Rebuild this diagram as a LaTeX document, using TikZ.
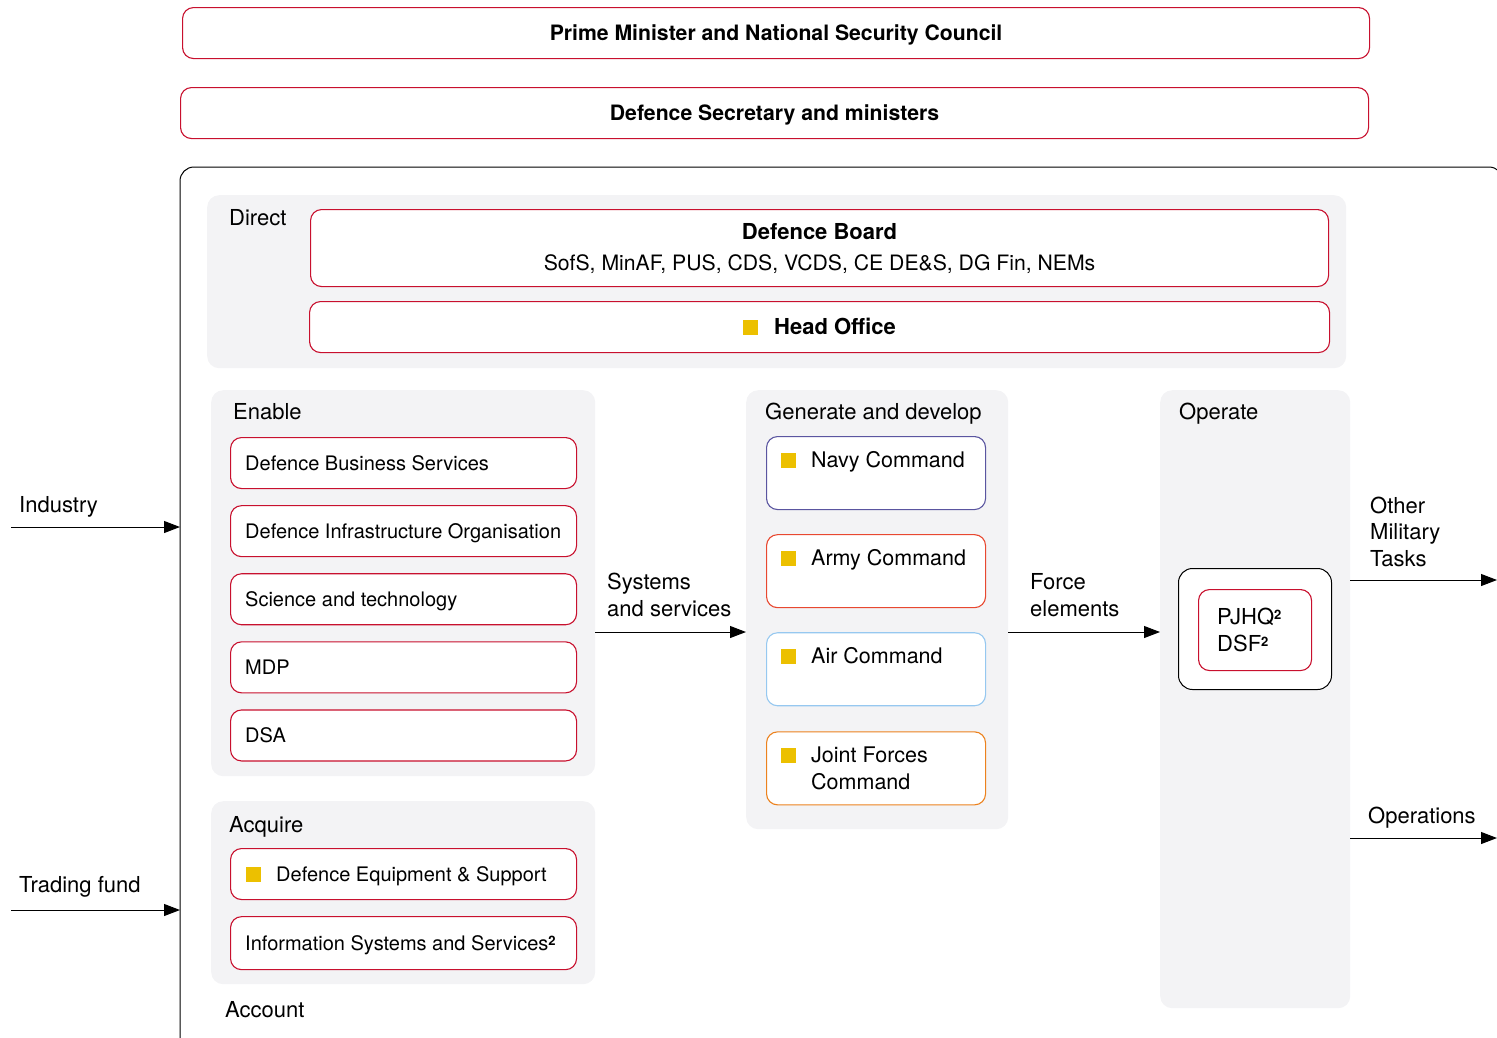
\documentclass[tikz,border=0pt]{standalone}
\usepackage{fontspec}
\setmainfont{TeX Gyre Heros}
\usepackage{tikz}
\usetikzlibrary{positioning,arrows.meta}

\definecolor{hored}{RGB}{200,16,46}
\definecolor{hoyellow}{RGB}{236,192,0}
\definecolor{panelgrey}{RGB}{243,243,245}
\definecolor{navyc}{RGB}{90,85,160}
\definecolor{armyc}{RGB}{232,72,48}
\definecolor{airc}{RGB}{150,200,240}
\definecolor{jfcc}{RGB}{236,130,30}

\newcommand{\hosq}{\textcolor{hoyellow}{\rule[-0.5pt]{15pt}{15pt}}}
\newcommand{\suptwo}{\raisebox{5pt}{\fontsize{13}{13}\selectfont\bfseries 2}}

\tikzset{
	panel/.style={fill=panelgrey, rounded corners=12pt, inner sep=0pt, anchor=north west},
	hobox/.style={draw=hored, line width=1.1pt, rounded corners=11pt, fill=white, inner sep=0pt, anchor=north west},
	ttl/.style={text height=19pt, text depth=4pt},
	unit/.style={hobox, minimum width=346pt, minimum height=51pt},
	cmd/.style={hobox, minimum width=219pt, minimum height=73pt},
	lbl/.style={inner sep=0pt, anchor=base west, align=left, font=\fontsize{22}{26.5}\selectfont},
	utxt/.style={lbl, font=\fontsize{20}{27}\selectfont},
	ctxt/.style={lbl, font=\fontsize{21.5}{27}\selectfont},
	flow/.style={line width=1pt, ->},
}

\begin{document}
\begin{tikzpicture}[x=1pt, y=-1pt, font=\fontsize{20}{27}\selectfont, >={Triangle[length=16pt,width=12pt]}]
	\useasboundingbox (0,0) rectangle (1497,1037);
	\begin{scope}
		\clip (0,0) rectangle (1497,1037);
		\draw[line width=1pt, rounded corners=14pt] (180,1060) -- (180,167) -- (1503,167) -- (1503,1060);
	\end{scope}
	\coordinate (frameL) at (180,167);

	\node[hobox, ttl, minimum width=1187pt, minimum height=51pt, font=\fontsize{21.2}{26}\selectfont\bfseries] (pm) at (182,7) {Prime Minister and National Security Council};
	\node[hobox, ttl, minimum width=1188pt, minimum height=51pt, font=\fontsize{21.2}{26}\selectfont\bfseries] (defsec) at (180,87) {Defence Secretary and ministers};

	\node[panel, minimum width=1139pt, minimum height=173pt] (direct) at (207,195) {};
	\node[lbl] (directlbl) at (229,225) {Direct};
	\node[hobox, align=center, minimum width=1018pt, minimum height=77pt, font=\fontsize{21.2}{27}\selectfont] (board) at (310,209) {\fontsize{22}{27}\selectfont\textbf{Defence Board}\\[4pt]SofS, MinAF, PUS, CDS, VCDS, CE DE\&S, DG Fin, NEMs};
	\node[hobox, ttl, minimum width=1020pt, minimum height=51pt, font=\fontsize{22}{26}\selectfont] (headoff) at (309,301) {\hosq\hspace{16pt}\textbf{Head Office}};

	\node[panel, minimum width=384pt, minimum height=386pt] (enable) at (211,390) {};
	\node[lbl] (enablelbl) at (233,419) {Enable};
	\node[unit] (dbs) at (230,437) {};
	\node[unit, below=16pt of dbs] (dio) {};
	\node[unit, below=16pt of dio] (st) {};
	\node[unit, below=16pt of st] (mdp) {};
	\node[unit, below=16pt of mdp] (dsa) {};
	\node[utxt] (dbstxt) at ([xshift=15pt, yshift=-7pt]dbs.west) {Defence Business Services};
	\node[utxt] (diotxt) at ([xshift=15pt, yshift=-7pt]dio.west) {Defence Infrastructure Organisation};
	\node[utxt] (sttxt) at ([xshift=15pt, yshift=-7pt]st.west) {Science and technology};
	\node[utxt] (mdptxt) at ([xshift=15pt, yshift=-7pt]mdp.west) {MDP};
	\node[utxt] (dsatxt) at ([xshift=15pt, yshift=-7pt]dsa.west) {DSA};

	\node[panel, minimum width=384pt, minimum height=183pt] (acquire) at (211,801) {};
	\node[lbl] (acquirelbl) at (229,832) {Acquire};
	\node[unit] (des) at (230,848) {};
	\node[unit, minimum height=53pt, below=16pt of des] (iss) {};
	\node[utxt] (destxt) at ([xshift=46pt, yshift=-7pt]des.west) {\llap{\hosq\hspace{15pt}}Defence Equipment \& Support};
	\node[utxt] (isstxt) at ([xshift=15pt, yshift=-7pt]iss.west) {Information Systems and Services\suptwo};
	\node[lbl] (accountlbl) at (225,1017) {Account};

	\node[panel, minimum width=262pt, minimum height=439pt] (gen) at (746,390) {};
	\node[lbl] (genlbl) at (765,419) {Generate and develop};
	\node[cmd, draw=navyc] (navy) at (766,436) {};
	\node[cmd, draw=armyc, below=24pt of navy] (army) {};
	\node[cmd, draw=airc, below=24pt of army] (air) {};
	\node[cmd, draw=jfcc, below=25pt of air] (jfc) {};
	\node[ctxt] (navytxt) at ([xshift=45pt, yshift=-31pt]navy.north west) {\llap{\hosq\hspace{15pt}}Navy Command};
	\node[ctxt] (armytxt) at ([xshift=45pt, yshift=-31pt]army.north west) {\llap{\hosq\hspace{15pt}}Army Command};
	\node[ctxt] (airtxt) at ([xshift=45pt, yshift=-31pt]air.north west) {\llap{\hosq\hspace{15pt}}Air Command};
	\node[ctxt] (jfctxt) at ([xshift=45pt, yshift=-58pt]jfc.north west) {\llap{\hosq\hspace{15pt}}Joint Forces\\Command};

	\node[panel, minimum width=190pt, minimum height=618pt] (operate) at (1160,390) {};
	\node[lbl] (operatelbl) at (1179,419) {Operate};
	\node[hobox, draw=black, line width=1pt, rounded corners=14pt, minimum width=153pt, minimum height=121pt] (pjhqbox) at (1178,568) {};
	\node[hobox, minimum width=113pt, minimum height=81pt] (pjhq) at (1198,589) {};
	\node[lbl] (pjhqtxt) at ([xshift=19pt, yshift=-62pt]pjhq.north west) {PJHQ\suptwo\\DSF\suptwo};

	\coordinate (flowrow) at (0,632);
	\draw[flow] (enable.east |- flowrow) -- (gen.west |- flowrow);
	\node[lbl] (syslbl) at (607,616) {Systems\\and services};
	\draw[flow] (gen.east |- flowrow) -- (operate.west |- flowrow);
	\node[lbl] (forcelbl) at (1030,616) {Force\\elements};

	\coordinate (omtend) at (1497,580);
	\draw[flow] (operate.east |- omtend) -- (omtend);
	\node[lbl] (omtlbl) at (1370,566) {Other\\Military\\Tasks};
	\coordinate (opsend) at (1497,838);
	\draw[flow] (operate.east |- opsend) -- (opsend);
	\node[lbl] (opslbl) at (1368,823) {Operations};

	\coordinate (indstart) at (11,527);
	\draw[flow] (indstart) -- (frameL |- indstart);
	\node[lbl] (indlbl) at (19,512) {Industry};
	\coordinate (tradestart) at (11,910);
	\draw[flow] (tradestart) -- (frameL |- tradestart);
	\node[lbl] (tradelbl) at (19,892) {Trading fund};
\end{tikzpicture}
\end{document}
